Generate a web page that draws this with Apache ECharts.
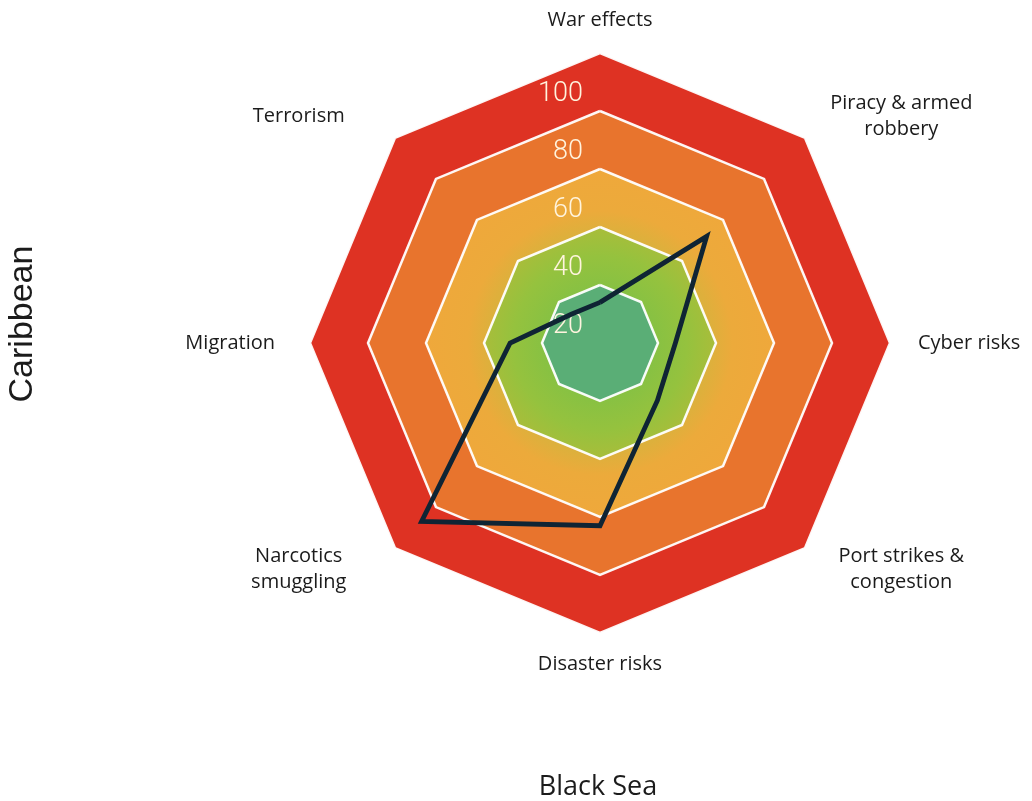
<!DOCTYPE html>
<html><head><meta charset="utf-8">
<script src="https://cdn.jsdelivr.net/npm/echarts@6/dist/echarts.min.js"></script>
<style>html,body{margin:0;padding:0;background:#fff}#c{width:1032px;height:801px}</style>
</head><body><div id="c"></div>
<script>
// Indicators listed counter-clockwise starting at the top (ECharts radar order)
const indicatorNames = ['War effects', 'Terrorism', 'Migration', 'Narcotics\nsmuggling', 'Disaster risks', 'Port strikes &\ncongestion', 'Cyber risks', 'Piracy & armed\nrobbery'];
const riskValues = [14, 14, 31, 87, 63, 28, 26, 52];
const maxValue = 100;
const bandLabels = ['20', '40', '60', '80', '100'];
const bottomTitle = 'Black Sea';
const sideTitle = 'Caribbean';

// styling
const nameGaps = [20, 30, 35, 30, 18, 30, 28, 30];
const FONT = 'Open Sans';
const TEXT = '#1b1b1b';

function radial(stops) {
  return new echarts.graphic.RadialGradient(0.5, 0.5, 0.5, stops.map(s => ({offset: s[0], color: s[1]})));
}
const bandColors = [
  '#5AAE76',
  radial([[0.45, '#86C143'], [0.75, '#95C23E'], [1, '#A9BD3A']]),
  radial([[0.64, '#DDB03C'], [0.76, '#ECAA3B'], [1, '#EFA83B']]),
  '#E8742D',
  '#DE3223'
];

const chart = echarts.init(document.getElementById('c'), null, {renderer: 'canvas'});

const indicators = indicatorNames.map((n, i) => {
  const o = {name: n, min: 0, max: maxValue, nameGap: nameGaps[i]};
  if (i === 0) {
    o.axisLabel = {
      show: true,
      showMinLabel: true,
      showMaxLabel: false,
      margin: 17,
      color: '#FFF4DE',
      fontSize: 27,
      fontFamily: 'Roboto',
      fontWeight: 300,
      verticalAlign: 'bottom',
      lineHeight: 33,
      formatter: (v, idx) => (idx < bandLabels.length ? bandLabels[idx] : '')
    };
  }
  return o;
});

chart.setOption({
  animation: false,
  backgroundColor: '#fff',
  radar: {
    center: [600, 343],
    radius: 290,
    startAngle: 90,
    shape: 'polygon',
    splitNumber: 5,
    indicator: indicators,
    axisName: {
      color: TEXT,
      fontSize: 20,
      fontFamily: FONT,
      lineHeight: 26,
      formatter: (name) => {
        const idx = indicatorNames.indexOf(name);
        if (idx % 2 === 1) {
          return name.split('\n').map(l => '{box|' + l + '}').join('\n');
        }
        return name;
      },
      rich: {
        box: {width: 150, align: 'center', color: TEXT, fontSize: 20, fontFamily: FONT, lineHeight: 26}
      }
    },
    axisLine: {show: false},
    axisTick: {show: false},
    axisLabel: {show: false},
    splitLine: {lineStyle: {color: 'rgba(255,255,255,0.95)', width: 2.5}},
    splitArea: {show: true, areaStyle: {color: bandColors}}
  },
  series: [{
    type: 'radar',
    symbol: 'none',
    lineStyle: {color: '#0F2434', width: 4.8, join: 'miter'},
    data: [{value: riskValues, name: 'Risk'}]
  }],
  graphic: [
    {type: 'text', x: 598, y: 787, style: {text: bottomTitle, fill: TEXT, fontSize: 27, fontFamily: FONT, align: 'center', verticalAlign: 'middle'}},
    {type: 'text', x: 23, y: 324, rotation: Math.PI / 2, style: {text: sideTitle, fill: TEXT, fontSize: 34, fontFamily: 'Liberation Sans', align: 'center', verticalAlign: 'middle'}}
  ]
});
</script>
</body></html>
